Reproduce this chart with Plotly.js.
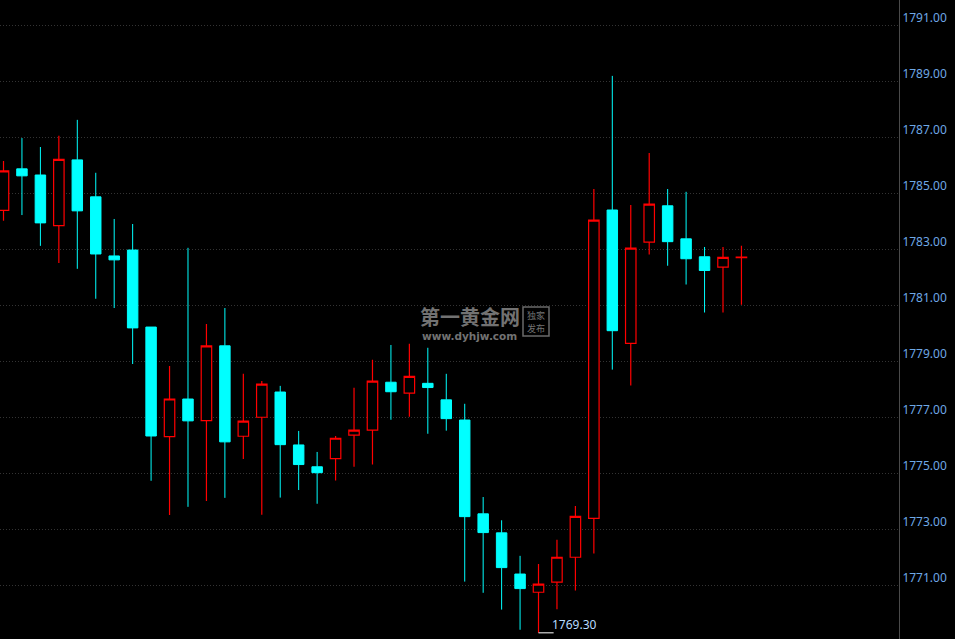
<!DOCTYPE html>
<html>
<head>
<meta charset="utf-8">
<script src="https://cdn.plot.ly/plotly-3.0.1.min.js"></script>
<style>
html,body{margin:0;padding:0;background:#000;}
#chart{width:955px;height:639px;}
</style>
</head>
<body>
<div id="chart"></div>
<script>
// candle index (no time labels are shown on the reference)
var categories = [];
for (var k = 0; k < 41; k++) categories.push(k);

var openVals  = [1784.39,1785.87,1785.65,1783.84,1786.19,1784.87,1782.76,1782.97,1780.22,1776.31,
                 1777.65,1776.88,1779.55,1776.32,1777.00,1777.90,1776.01,1775.23,1775.52,1776.36,
                 1776.54,1778.25,1777.86,1778.21,1777.62,1776.90,1773.55,1772.87,1771.40,1770.75,
                 1771.11,1772.00,1773.39,1784.40,1779.64,1783.25,1784.55,1783.37,1782.73,1782.36,
                 1782.70];
var highVals  = [1786.15,1786.97,1786.65,1787.05,1787.62,1785.73,1784.08,1783.90,1780.22,1778.83,
                 1783.05,1780.33,1780.90,1778.55,1778.29,1778.12,1776.51,1775.76,1776.33,1778.05,
                 1779.05,1779.58,1779.62,1779.48,1778.55,1777.48,1774.15,1773.32,1772.05,1771.76,
                 1772.62,1773.83,1785.15,1789.19,1784.58,1786.44,1785.15,1785.05,1783.08,1783.08,
                 1783.12];
var lowVals   = [1784.02,1784.22,1783.12,1782.51,1782.30,1781.23,1780.90,1778.90,1774.73,1773.51,
                 1773.80,1774.01,1774.12,1775.51,1773.52,1774.13,1774.40,1773.91,1774.74,1775.23,
                 1775.31,1776.91,1777.02,1776.41,1776.52,1771.13,1770.73,1770.13,1769.41,1769.30,
                 1770.14,1770.81,1772.13,1778.70,1778.13,1782.81,1782.41,1781.74,1780.74,1780.74,
                 1781.02];
var closeVals = [1785.80,1785.62,1783.94,1786.21,1784.37,1782.83,1782.62,1780.19,1776.33,1777.65,
                 1776.87,1779.55,1776.12,1776.86,1778.18,1776.02,1775.31,1775.02,1776.25,1776.54,
                 1778.29,1777.91,1778.46,1778.06,1776.95,1773.45,1772.88,1771.63,1770.88,1771.04,
                 1772.00,1773.46,1784.04,1780.09,1783.04,1784.61,1783.27,1782.66,1782.24,1782.71,
                 1782.72];

var yTicks = [1771,1773,1775,1777,1779,1781,1783,1785,1787,1789,1791];
var yTickText = yTicks.map(function(v){ return v.toFixed(2); });

// lowest low marker
var minIdx = 0;
for (var i = 1; i < lowVals.length; i++) if (lowVals[i] < lowVals[minIdx]) minIdx = i;
var minVal = lowVals[minIdx];

var trace = {
  type: 'candlestick',
  x: categories,
  open: openVals, high: highVals, low: lowVals, close: closeVals,
  increasing: {line: {color: '#ff0000', width: 1.2}, fillcolor: '#000000'},
  decreasing: {line: {color: '#00ffff', width: 1}, fillcolor: '#00ffff'},
  whiskerwidth: 0,
  hoverinfo: 'skip'
};

var layout = {
  width: 955, height: 639,
  paper_bgcolor: '#000000', plot_bgcolor: '#000000',
  margin: {l: 0, r: 56, t: 0, b: 0},
  showlegend: false,
  hovermode: false,
  boxgap: 0.19,
  xaxis: {
    range: [-0.19, 48.54],
    showgrid: false, zeroline: false, showticklabels: false, showline: false,
    rangeslider: {visible: false}, fixedrange: true
  },
  yaxis: {
    side: 'right',
    range: [1769.08, 1791.90],
    tickvals: yTicks, ticktext: yTickText,
    showgrid: true, gridcolor: '#333333', griddash: '1px,2px', gridwidth: 1,
    zeroline: false,
    showline: true, linecolor: '#4a4a4a', linewidth: 1,
    ticks: '', ticklabelstandoff: 0, ticklabelshift: -7,
    tickfont: {family: 'Noto Sans, Open Sans, sans-serif', size: 12, color: '#6ea8e6'},
    fixedrange: true
  },
  shapes: [
    {type: 'line', xref: 'x', yref: 'y', x0: minIdx, x1: minIdx + 0.82, y0: minVal, y1: minVal,
     line: {color: '#ffffff', width: 1}},
    {type: 'rect', xref: 'paper', yref: 'paper',
     x0: 523/899, x1: 549/899, y0: 1 - 336/639, y1: 1 - 307/639,
     line: {color: '#6a6a6a', width: 1.5}, fillcolor: 'rgba(0,0,0,0)'}
  ],
  annotations: [
    {xref: 'x', yref: 'y', x: minIdx + 0.82, y: minVal, text: minVal.toFixed(2),
     showarrow: false, xanchor: 'left', yanchor: 'bottom', yshift: -2, xshift: -4,
     font: {family: 'Noto Sans, Open Sans, sans-serif', size: 12, color: '#b8dcff'}},
    {xref: 'paper', yref: 'paper', x: 470/899, y: 1 - 316/639, text: '<b>第一黄金网</b>',
     showarrow: false, xanchor: 'center', yanchor: 'middle',
     font: {family: 'Noto Sans CJK SC, sans-serif', size: 20, color: '#727272'}},
    {xref: 'paper', yref: 'paper', x: 470/899, y: 1 - 336/639, text: '<b>www.dyhjw.com</b>',
     showarrow: false, xanchor: 'center', yanchor: 'middle',
     font: {family: 'DejaVu Sans, sans-serif', size: 10.5, color: '#727272'}},
    {xref: 'paper', yref: 'paper', x: 536/899, y: 1 - 315/639, text: '独家',
     showarrow: false, xanchor: 'center', yanchor: 'middle',
     font: {family: 'Noto Sans CJK SC, sans-serif', size: 9, color: '#727272'}},
    {xref: 'paper', yref: 'paper', x: 536/899, y: 1 - 328/639, text: '发布',
     showarrow: false, xanchor: 'center', yanchor: 'middle',
     font: {family: 'Noto Sans CJK SC, sans-serif', size: 9, color: '#727272'}}
  ]
};

Plotly.newPlot('chart', [trace], layout, {displayModeBar: false, staticPlot: true});
</script>
</body>
</html>
